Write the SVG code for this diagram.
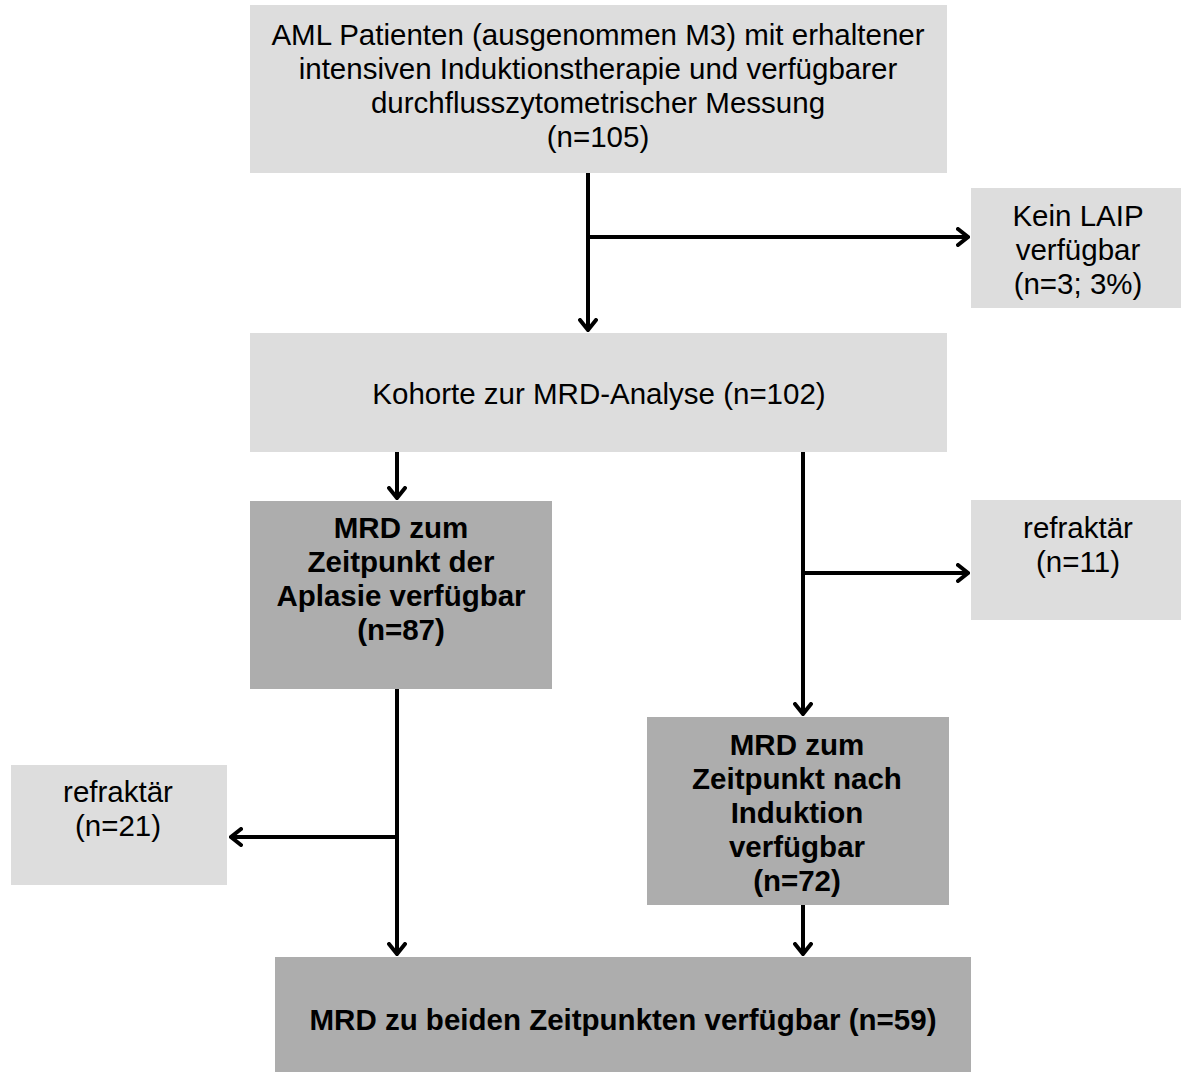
<svg xmlns="http://www.w3.org/2000/svg" width="1181" height="1072" viewBox="0 0 1181 1072">
<style>
.light{fill:#dddddd}
.dark{fill:#adadad}
text{font-family:"Liberation Sans",Arial,sans-serif;font-size:29.5px;fill:#000;text-anchor:middle}
.b{font-weight:bold}
.c{stroke:#000;stroke-width:4;fill:none}
</style>
<defs>
<marker id="ah" viewBox="0 0 14 20" refX="12" refY="10" markerWidth="14" markerHeight="20" markerUnits="userSpaceOnUse" orient="auto">
<path d="M2,2 L12,10 L2,18" fill="none" stroke="#000" stroke-width="4" stroke-linecap="round" stroke-linejoin="miter"/>
</marker>
</defs>
<rect width="1181" height="1072" fill="#fff"/>
<g id="n_top">
<rect class="light" x="250" y="5" width="697" height="168"/>
<text x="598" y="45">AML Patienten (ausgenommen M3) mit erhaltener</text>
<text x="598" y="79">intensiven Induktionstherapie und verfügbarer</text>
<text x="598" y="113">durchflusszytometrischer Messung</text>
<text x="598" y="147">(n=105)</text>
</g>
<g id="n_laip">
<rect class="light" x="971" y="188" width="210" height="120"/>
<text x="1078" y="226">Kein LAIP</text>
<text x="1078" y="260">verfügbar</text>
<text x="1078" y="294">(n=3; 3%)</text>
</g>
<g id="n_kohorte">
<rect class="light" x="250" y="333" width="697" height="119"/>
<text x="599" y="404">Kohorte zur MRD-Analyse (n=102)</text>
</g>
<g id="n_aplasie">
<rect class="dark" x="250" y="501" width="302" height="188"/>
<text class="b" x="401" y="538">MRD zum</text>
<text class="b" x="401" y="572">Zeitpunkt der</text>
<text class="b" x="401" y="606">Aplasie verfügbar</text>
<text class="b" x="401" y="640">(n=87)</text>
</g>
<g id="n_ref11">
<rect class="light" x="971" y="500" width="210" height="120"/>
<text x="1078" y="538">refraktär</text>
<text x="1078" y="572">(n=11)</text>
</g>
<g id="n_ref21">
<rect class="light" x="11" y="765" width="216" height="120"/>
<text x="118" y="802">refraktär</text>
<text x="118" y="836">(n=21)</text>
</g>
<g id="n_induktion">
<rect class="dark" x="647" y="717" width="302" height="188"/>
<text class="b" x="797" y="755">MRD zum</text>
<text class="b" x="797" y="789">Zeitpunkt nach</text>
<text class="b" x="797" y="823">Induktion</text>
<text class="b" x="797" y="857">verfügbar</text>
<text class="b" x="797" y="891">(n=72)</text>
</g>
<g id="n_beide">
<rect class="dark" x="275" y="957" width="696" height="115"/>
<text class="b" x="623" y="1030">MRD zu beiden Zeitpunkten verfügbar (n=59)</text>
</g>
<g id="connectors">
<path class="c" d="M588,173 V330" marker-end="url(#ah)"/>
<path class="c" d="M588,237 H968" marker-end="url(#ah)"/>
<path class="c" d="M397,452 V498" marker-end="url(#ah)"/>
<path class="c" d="M397,689 V954" marker-end="url(#ah)"/>
<path class="c" d="M397,837 H231" marker-end="url(#ah)"/>
<path class="c" d="M803,452 V714" marker-end="url(#ah)"/>
<path class="c" d="M803,573 H968" marker-end="url(#ah)"/>
<path class="c" d="M803,905 V954" marker-end="url(#ah)"/>
</g>
</svg>
